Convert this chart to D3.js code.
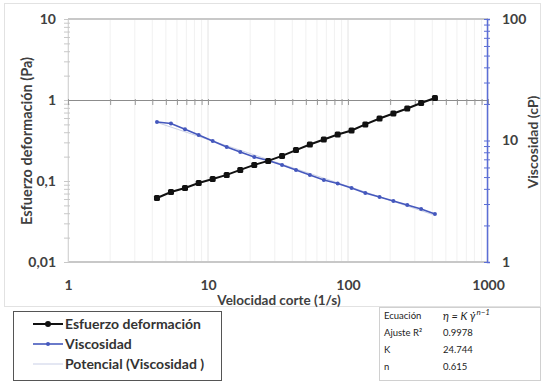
<!DOCTYPE html>
<html>
<head>
<meta charset="utf-8">
<script src="https://cdn.jsdelivr.net/npm/d3@7/dist/d3.min.js"></script>
<style>
  html, body { margin: 0; padding: 0; background: #fff; }
  svg { display: block; }
  text { font-family: Lato, "Open Sans", "Liberation Sans", sans-serif; }
</style>
</head>
<body>
<svg id="chart" width="542" height="381"></svg>
<script>
// Shear rate (1/s)
const shearRate = [4.32, 5.44, 6.85, 8.58, 10.8, 13.6, 17.0, 21.4, 26.9, 33.8, 42.5,
                   53.4, 67.2, 84.4, 106, 133, 168, 211, 265, 333, 418];
// Shear stress (Pa)
const shearStress = [0.0617, 0.0731, 0.0820, 0.0945, 0.106, 0.119, 0.137, 0.158, 0.177, 0.204, 0.241,
                     0.282, 0.325, 0.375, 0.420, 0.499, 0.591, 0.681, 0.785, 0.918, 1.06];
// Viscosity (cP)
const viscosity = [14.2, 13.8, 12.4, 11.1, 9.91, 8.85, 8.04, 7.31, 6.84, 6.29, 5.72,
                   5.20, 4.73, 4.43, 4.06, 3.70, 3.43, 3.18, 2.94, 2.73, 2.48];

// Power-law fit of the viscosity
const fitK = 24.744;
const fitN = 0.615;
const fitR2 = 0.9978;

const xTicks = [1, 10, 100, 1000];
const xTickLabels = ["1", "10", "100", "1000"];
const yLeftTicks = [0.01, 0.1, 1, 10];
const yLeftTickLabels = ["0,01", "0,1", "1", "10"];
const yRightTicks = [1, 10, 100];
const yRightTickLabels = ["1", "10", "100"];

const legendLabels = ["Esfuerzo deformación", "Viscosidad", "Potencial (Viscosidad )"];

const svg = d3.select("#chart");
const plot = { left: 68, right: 488, top: 19, bottom: 262 };

const x = d3.scaleLog().domain([1, 1000]).range([plot.left, plot.right]);
const yL = d3.scaleLog().domain([0.01, 10]).range([plot.bottom, plot.top]);
const yR = d3.scaleLog().domain([1, 100]).range([plot.bottom, plot.top]);

const textColor = "#404040";
const blue = "#4558bd";
const axisBlue = "#5b6ed6";

// minor tick values (2..9 of each decade)
function minorTicks(lo, hi) {
  const out = [];
  for (let d = lo; d < hi; d *= 10) {
    for (let m = 1; m < 10; m++) out.push(d * m);
  }
  out.push(hi);
  return out;
}
const xMinor = minorTicks(1, 1000);

// outer chart frame
svg.append("rect").attr("x", 4.5).attr("y", 3.5).attr("width", 536).attr("height", 303)
  .attr("fill", "none").attr("stroke", "#e2e2e2");

// vertical gridlines
svg.append("g").selectAll("line").data(xMinor).join("line")
  .attr("x1", d => x(d)).attr("x2", d => x(d))
  .attr("y1", plot.top).attr("y2", plot.bottom)
  .attr("stroke", d => xTicks.includes(d) ? "#e4e4e4" : "#f1f1f1")
  .attr("stroke-width", 1);

// top and bottom horizontal gridlines
svg.append("g").selectAll("line").data([10, 0.01]).join("line")
  .attr("x1", plot.left).attr("x2", plot.right)
  .attr("y1", d => yL(d)).attr("y2", d => yL(d))
  .attr("stroke", "#c8c8c8").attr("stroke-width", 2);

// left axis
const leftAxis = svg.append("g").attr("transform", `translate(${plot.left},0)`)
  .call(d3.axisLeft(yL).tickValues(minorTicks(0.01, 10)).tickSize(4).tickFormat(""));
leftAxis.select(".domain").attr("stroke", "#d6d6d6");
leftAxis.selectAll(".tick line").attr("stroke", "#c8c8c8").attr("x2", 2).attr("x1", -4);

svg.append("g").selectAll("text").data(yLeftTicks).join("text")
  .attr("x", 56).attr("y", d => yL(d)).attr("dy", "0.35em")
  .attr("text-anchor", "end").attr("font-size", 14).attr("font-weight", "bold")
  .attr("fill", textColor)
  .text((d, i) => yLeftTickLabels[i]);

// horizontal axis line, crossing at 1
const xAxis = svg.append("g").attr("transform", `translate(0,${yL(1)})`)
  .call(d3.axisBottom(x).tickValues(xMinor).tickSize(5).tickFormat(""));
xAxis.select(".domain").attr("stroke", "#8c8c8c");
xAxis.selectAll(".tick line").attr("stroke", "#9a9a9a").attr("y1", -1);

// horizontal axis labels, at the bottom of the plot
const xLabels = svg.append("g").attr("transform", `translate(0,${plot.bottom})`)
  .call(d3.axisBottom(x).tickValues(xTicks).tickSize(0).tickPadding(18)
    .tickFormat((d, i) => xTickLabels[i]));
xLabels.select(".domain").remove();
xLabels.selectAll("text").attr("font-size", 14).attr("font-weight", "bold")
  .attr("fill", textColor).attr("font-family", "Lato, sans-serif");

// right axis
const rightAxis = svg.append("g").attr("transform", `translate(${plot.right - 1},0)`)
  .call(d3.axisRight(yR).tickValues(minorTicks(1, 100)).tickSize(3).tickFormat(""));
rightAxis.select(".domain").attr("stroke", axisBlue).attr("stroke-width", 1.5);
rightAxis.selectAll(".tick line").attr("stroke", axisBlue).attr("x1", -3);

svg.append("g").selectAll("text").data(yRightTicks).join("text")
  .attr("x", 502).attr("y", d => yR(d)).attr("dy", "0.35em")
  .attr("text-anchor", "start").attr("font-size", 14).attr("font-weight", "bold")
  .attr("fill", textColor)
  .text((d, i) => yRightTickLabels[i]);

// axis titles
svg.append("text").attr("x", 279).attr("y", 305).attr("text-anchor", "middle")
  .attr("font-size", 13.5).attr("font-weight", "bold").attr("fill", textColor)
  .text("Velocidad corte (1/s)");
svg.append("text").attr("transform", "translate(32,141) rotate(-90)")
  .attr("text-anchor", "middle").attr("font-size", 14.5).attr("font-weight", "bold")
  .attr("fill", textColor).text("Esfuerzo deformación (Pa)");
svg.append("text").attr("transform", "translate(538,142) rotate(-90)")
  .attr("text-anchor", "middle").attr("font-size", 14).attr("font-weight", "bold")
  .attr("fill", textColor).text("Viscosidad (cP)");

// power-law trendline of the viscosity
const fitPts = d3.range(0, 41).map(i => {
  const g = shearRate[0] * Math.pow(shearRate[shearRate.length - 1] / shearRate[0], i / 40);
  return [g, fitK * Math.pow(g, fitN - 1)];
});
svg.append("path").datum(fitPts)
  .attr("d", d3.line().x(d => x(d[0])).y(d => yR(d[1])))
  .attr("fill", "none").attr("stroke", "#c9cfe6").attr("stroke-width", 1);

// viscosity series
const viscPts = shearRate.map((g, i) => [g, viscosity[i]]);
svg.append("path").datum(viscPts)
  .attr("d", d3.line().x(d => x(d[0])).y(d => yR(d[1])))
  .attr("fill", "none").attr("stroke", blue).attr("stroke-width", 1.6);
svg.append("g").selectAll("circle").data(viscPts).join("circle")
  .attr("cx", d => x(d[0])).attr("cy", d => yR(d[1])).attr("r", 2)
  .attr("fill", blue);

// stress series
const stressPts = shearRate.map((g, i) => [g, shearStress[i]]);
svg.append("path").datum(stressPts)
  .attr("d", d3.line().x(d => x(d[0])).y(d => yL(d[1])))
  .attr("fill", "none").attr("stroke", "#111").attr("stroke-width", 2);
svg.append("g").selectAll("rect").data(stressPts).join("rect")
  .attr("x", d => x(d[0]) - 3).attr("y", d => yL(d[1]) - 3)
  .attr("width", 6).attr("height", 6).attr("rx", 1.5)
  .attr("fill", "#111");

// legend
const legend = svg.append("g");
legend.append("rect").attr("x", 13.5).attr("y", 311.5).attr("width", 208).attr("height", 69)
  .attr("fill", "#fff").attr("stroke", "#555").attr("stroke-width", 1);
const legendStyles = [
  { stroke: "#111", width: 2, marker: "#111", r: 3 },
  { stroke: blue, width: 1.6, marker: blue, r: 2 },
  { stroke: "#c9cfe6", width: 1, marker: null, r: 0 }
];
legendLabels.forEach((lab, i) => {
  const yy = 324 + i * 20;
  const st = legendStyles[i];
  legend.append("line").attr("x1", 33).attr("x2", 63).attr("y1", yy).attr("y2", yy)
    .attr("stroke", st.stroke).attr("stroke-width", st.width);
  if (st.marker) {
    legend.append("circle").attr("cx", 48).attr("cy", yy).attr("r", st.r).attr("fill", st.marker);
  }
  legend.append("text").attr("x", 65).attr("y", yy).attr("dy", "0.35em")
    .attr("font-size", 14).attr("font-weight", "bold").attr("fill", "#333").text(lab);
});

// fit statistics box
const stats = svg.append("g");
stats.append("rect").attr("x", 379.5).attr("y", 307.5).attr("width", 161).attr("height", 73)
  .attr("fill", "#fff").attr("stroke", "#d0d0d0");
const statRows = [
  ["Ecuación", null],
  ["Ajuste R²", fitR2.toFixed(4)],
  ["K", fitK.toFixed(3)],
  ["n", fitN.toFixed(3)]
];
statRows.forEach((r, i) => {
  const yy = 316 + i * 17;
  stats.append("text").attr("x", 384).attr("y", yy).attr("dy", "0.35em")
    .attr("font-size", 9.5).attr("fill", "#222").text(r[0]);
  if (r[1] !== null) {
    stats.append("text").attr("x", 443).attr("y", yy).attr("dy", "0.35em")
      .attr("font-size", 9.5).attr("fill", "#222").text(r[1]);
  }
});
const eq = stats.append("text").attr("x", 443).attr("y", 316).attr("dy", "0.35em")
  .attr("font-family", "'DejaVu Serif', 'Liberation Serif', serif")
  .attr("font-style", "italic").attr("font-size", 11).attr("fill", "#222");
eq.append("tspan").text("η = K γ̇");
eq.append("tspan").attr("font-size", 8).attr("dy", "-0.6em").attr("dx", "1").text("n−1");
</script>
</body>
</html>
